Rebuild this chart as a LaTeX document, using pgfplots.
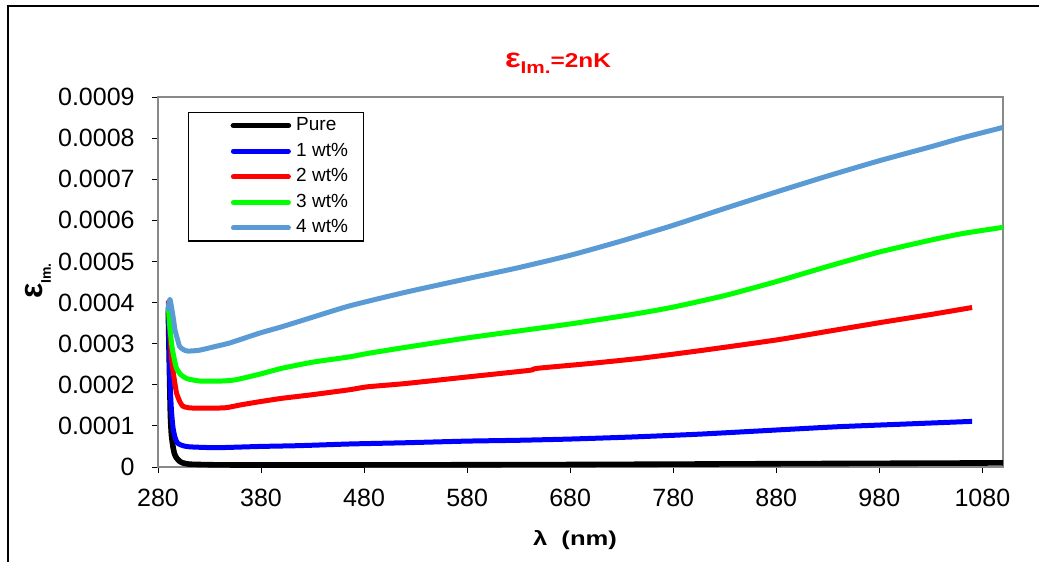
\documentclass[border=0pt]{standalone}
\usepackage{pgfplots}
\pgfplotsset{compat=1.18}
\usepackage{fontspec}
\setmainfont{Liberation Sans}

\definecolor{cPure}{RGB}{0,0,0}
\definecolor{cOne}{RGB}{0,0,255}
\definecolor{cTwo}{RGB}{255,0,0}
\definecolor{cThree}{RGB}{0,255,0}
\definecolor{cFour}{RGB}{91,155,213}
\definecolor{frameGray}{RGB}{137,137,137}

% imaginary part of the dielectric constant vs wavelength
\pgfplotstableread{
lam eps
290 0.00038
291 0.00025
292 0.00013
293 0.00008
294.5 0.00005
296 0.000032
298 0.000022
301 0.000014
304 0.00001
310 0.000007
321 0.000006
350 0.000005
480 0.000005
680 0.000006
880 0.000008
1100 0.00001
}\pure

\pgfplotstableread{
lam eps
290 0.00039
290.8 0.0003
291.6 0.00021
293 0.00014
294.5 0.000097
296.5 0.000072
299 0.000058
304 0.000052
311 0.000049
337 0.000047
379 0.00005
418 0.000052
466 0.000056
520 0.000059
580 0.000063
630 0.000065
680 0.000068
740 0.000073
806 0.00008
880 0.00009
940 0.000098
1000 0.000104
1070 0.000111
}\wtone

\pgfplotstableread{
lam eps
290 0.000405
291.5 0.00033
293.6 0.000253
296 0.00021
298 0.00018
301 0.00016
304 0.000148
310 0.000144
321 0.000143
345 0.000144
360 0.000151
379 0.000159
400 0.000167
430 0.000176
466 0.000188
483 0.000195
520 0.000203
580 0.000219
640 0.000235
648 0.00024
700 0.000252
750 0.000265
806 0.000283
880 0.000309
930 0.00033
980 0.000351
1030 0.000371
1070 0.000388
}\wttwo

\pgfplotstableread{
lam eps
290 0.00039
291.5 0.00034
293.6 0.000292
296 0.00026
298 0.00024
302 0.000225
308 0.000215
321 0.000209
340 0.000209
355 0.000212
379 0.000226
400 0.00024
430 0.000255
466 0.000268
483 0.000276
520 0.000291
580 0.000314
630 0.000331
680 0.000348
740 0.000371
780 0.000389
830 0.000417
880 0.000451
930 0.000488
980 0.000523
1030 0.000552
1061 0.000568
1100 0.000583
}\wtthree

\pgfplotstableread{
lam eps
289.5 0.00038
291.5 0.000408
293 0.00039
295 0.00036
296.5 0.000333
299 0.00031
301 0.000293
305 0.000285
309 0.000282
320 0.000284
337 0.000294
350 0.000302
379 0.000326
400 0.000341
427 0.000362
466 0.000392
520 0.000425
580 0.000458
630 0.000485
680 0.000515
730 0.00055
780 0.000588
830 0.000629
880 0.000669
930 0.000708
980 0.000745
1030 0.000779
1061 0.000801
1100 0.000826
}\wtfour

\begin{document}
\begin{tikzpicture}
\useasboundingbox (0pt,0pt) rectangle (519.5pt,-281pt);
\draw[line width=1.1pt] (4pt,-281pt) -- (4pt,-3pt) -- (519.5pt,-3pt);

\begin{axis}[
  at={(79pt,-233.5pt)}, anchor=south west,
  scale only axis, width=422.5pt, height=185pt,
  xmin=280, xmax=1100, ymin=0, ymax=0.0009,
  xtick={280,380,...,1080},
  ytick={0,0.0001,0.0002,0.0003,0.0004,0.0005,0.0006,0.0007,0.0008,0.0009},
  yticklabels={0,0.0001,0.0002,0.0003,0.0004,0.0005,0.0006,0.0007,0.0008,0.0009},
  scaled y ticks=false,
  /pgf/number format/assume math mode=true,
  /pgf/number format/1000 sep={},
  ticklabel style={font=\fontsize{12.5}{14}\selectfont},
  xticklabel style={anchor=north, inner sep=0pt, yshift=-8pt},
  yticklabel style={anchor=east, inner sep=0pt, xshift=-8.5pt},
  tick align=outside, xtick pos=bottom, ytick pos=left,
  major tick length=3pt,
  tick style={black, line width=0.5pt},
  axis line style={draw=frameGray, line width=1pt},
  clip=false,
  legend cell align=left,
  legend image code/.code={%
    \draw[#1, line cap=round] (0pt,0pt) -- (27.5pt,0pt);},
  legend style={
    at={(0.0355,0.9595)}, anchor=north west,
    draw=black, line width=0.6pt, fill=white,
    inner xsep=21pt, inner ysep=2pt,
    font=\fontsize{9.5}{11}\selectfont,
    column sep=2.5pt, row sep=3.8pt,
    nodes={inner sep=0pt, text height=7pt, text depth=2pt},
  },
  every axis plot/.append style={line width=2.5pt, line join=round, smooth, tension=0.35},
]
\addplot[cPure, line width=2.8pt] table[x=lam, y=eps] {\pure};
\addlegendentry{\makebox[12.5pt][l]{Pure}}
\addplot[cOne] table[x=lam, y=eps] {\wtone};
\addlegendentry{\makebox[12.5pt][l]{1 wt\%}}
\addplot[cTwo] table[x=lam, y=eps] {\wttwo};
\addlegendentry{\makebox[12.5pt][l]{2 wt\%}}
\addplot[cThree] table[x=lam, y=eps] {\wtthree};
\addlegendentry{\makebox[12.5pt][l]{3 wt\%}}
\addplot[cFour] table[x=lam, y=eps] {\wtfour};
\addlegendentry{\makebox[12.5pt][l]{4 wt\%}}
\end{axis}

% chart title
\node[anchor=base, text=red, font=\bfseries] at (279pt,-33.5pt)
  {\scalebox{1.22}[1]{\fontsize{13.5}{14}\selectfont ε\raisebox{-0.45ex}{\fontsize{8.5}{9}\selectfont Im.}\fontsize{10}{12}\selectfont=2nK}};
% axis titles
\node[rotate=90, anchor=center, font=\bfseries] at (19pt,-140.5pt)
  {\fontsize{16}{16}\selectfont ε\raisebox{-0.5ex}{\fontsize{7}{8}\selectfont Im.}};
\node[anchor=base, font=\bfseries\fontsize{10}{12}\selectfont] at (287.5pt,-272.5pt)
  {\scalebox{1.28}[1]{λ~~(nm)}};
\end{tikzpicture}
\end{document}
